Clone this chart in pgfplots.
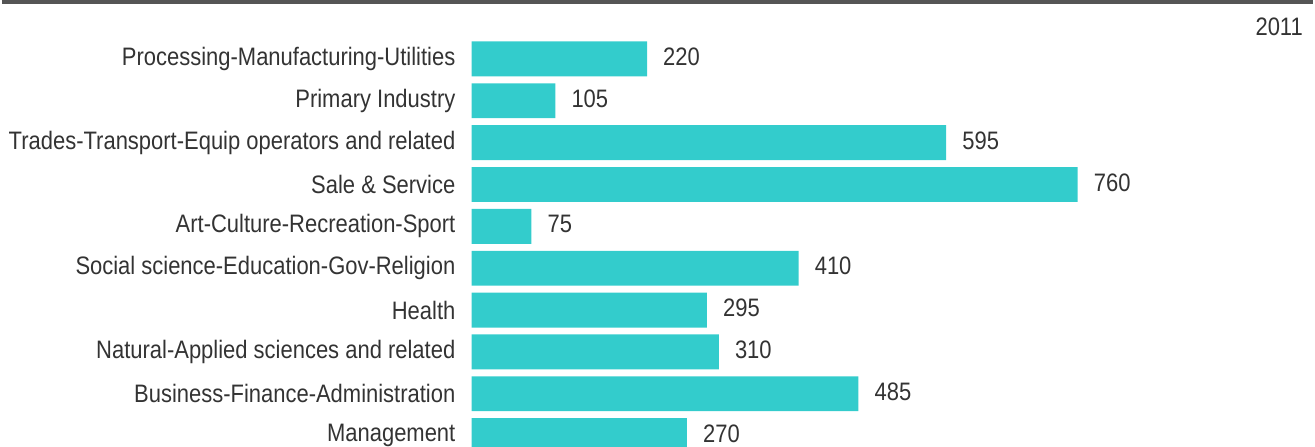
\documentclass[border=0pt]{standalone}
\usepackage{pgfplots}
\pgfplotsset{compat=1.18}
\usepackage{fontspec}
\setmainfont{Liberation Sans}[FakeStretch=0.87]
\definecolor{barc}{HTML}{33CCCC}
\definecolor{txt}{HTML}{333333}
\definecolor{topline}{HTML}{555555}
\begin{document}
\begin{tikzpicture}
\begin{axis}[
  scale only axis,
  width=633pt, height=336pt,
  xbar, bar width=0.833, bar shift=0pt,
  xmin=0, xmax=1055,
  ymin=-1.405, ymax=9.262,
  y dir=reverse,
  axis line style={draw=none},
  tick style={draw=none},
  major tick length=0pt,
  xtick=\empty,
  ytick={0,...,9},
  yticklabels={Processing-Manufacturing-Utilities,Primary Industry,Trades-Transport-Equip operators and related,Sale \& Service,Art-Culture-Recreation-Sport,Social science-Education-Gov-Religion,Health,Natural-Applied sciences and related,Business-Finance-Administration,Management},
  yticklabel style={anchor=east, inner sep=0pt, xshift=-12pt, font=\fontsize{19}{22}\selectfont, text=txt},
  nodes near coords,
  nodes near coords style={anchor=west, inner sep=0pt, xshift=12pt, yshift=1.5pt, font=\fontsize{19}{22}\selectfont, text=txt, /pgf/number format/assume math mode=true},
  point meta=x,
]
\addplot[fill=barc, draw=none] coordinates {
(220,0) (105,1) (595,2) (760,3) (75,4) (410,5) (295,6) (310,7) (485,8) (270,9)
};
\end{axis}
\draw[topline, line width=3pt] ([xshift=-353.25pt,yshift=-1.5pt]current axis.north west) -- ([yshift=-1.5pt]current axis.north east);
\node[anchor=east, inner sep=0pt, font=\fontsize{19}{22}\selectfont, text=txt] at ([xshift=-7.5pt,yshift=-20pt]current axis.north east) {2011};
\end{tikzpicture}
\end{document}
